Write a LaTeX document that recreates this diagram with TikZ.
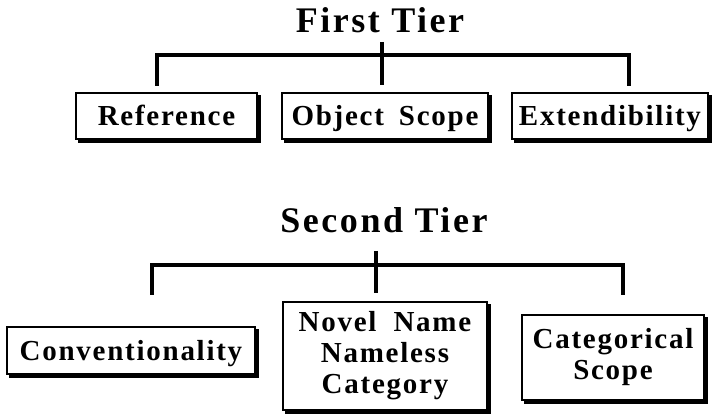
\documentclass[tikz,border=0pt]{standalone}
\usepackage{fontspec}
\setmainfont{Liberation Serif}
\newfontfamily\boxfont[LetterSpace=6]{Liberation Serif}
\newfontfamily\titlefont[LetterSpace=7]{Liberation Serif}
\begin{document}
\begin{tikzpicture}[x=1pt,y=-1pt,
  box/.style={draw, line width=1.6pt, fill=white, inner sep=0pt, align=center,
    font=\boxfont\bfseries\fontsize{29}{31}\selectfont,
    preaction={fill=black, draw=black, line width=1.6pt, transform canvas={shift={(3pt,-3pt)}}}},
  onebox/.style={box, text height=19pt, text depth=0pt},
  tiertitle/.style={font=\titlefont\bfseries\fontsize{36}{40}\selectfont, anchor=base, inner sep=0pt},
  bar/.style={line width=3.5pt, line join=miter, line cap=butt},
]
\useasboundingbox (0,0) rectangle (713,414);

% ---------- First tier ----------
\node[tiertitle] (t1) at (380,33) {First Tier};
\coordinate (t1top) at (382,42);
\coordinate (t1bot) at (382,85);
\coordinate (b1L) at (157,55);
\coordinate (b1R) at (629,55);
\coordinate (d1L) at (157,86);
\coordinate (d1R) at (629,86);
\draw[bar] (d1L) -- (b1L) -- (b1R) -- (d1R);
\draw[bar] (t1top) -- (t1bot);

\node[onebox, minimum width=181, minimum height=46] (ref) at (166.5,116) {Reference};
\node[onebox, minimum width=206, minimum height=46] (obj) at (385,116) {Object\hspace{6pt} Scope};
\node[onebox, minimum width=196, minimum height=46] (ext) at (610,116) {Extendibility};

% ---------- Second tier ----------
\node[tiertitle] (t2) at (384,233) {Second Tier};
\coordinate (t2top) at (376,251);
\coordinate (t2bot) at (376,293);
\coordinate (b2L) at (152,265);
\coordinate (b2R) at (623,265);
\coordinate (d2L) at (152,295);
\coordinate (d2R) at (623,295);
\draw[bar] (d2L) -- (b2L) -- (b2R) -- (d2R);
\draw[bar] (t2top) -- (t2bot);

\node[onebox, minimum width=248, minimum height=47] (conv) at (131,350.5) {Conventionality};
\node[box, minimum width=204, minimum height=108] (novel) at (385,356) {Novel\hspace{8pt} Name\\Nameless\\Category};
\node[box, minimum width=182, minimum height=85] (cat) at (613,357.5) {Categorical\\Scope};
\end{tikzpicture}
\end{document}
